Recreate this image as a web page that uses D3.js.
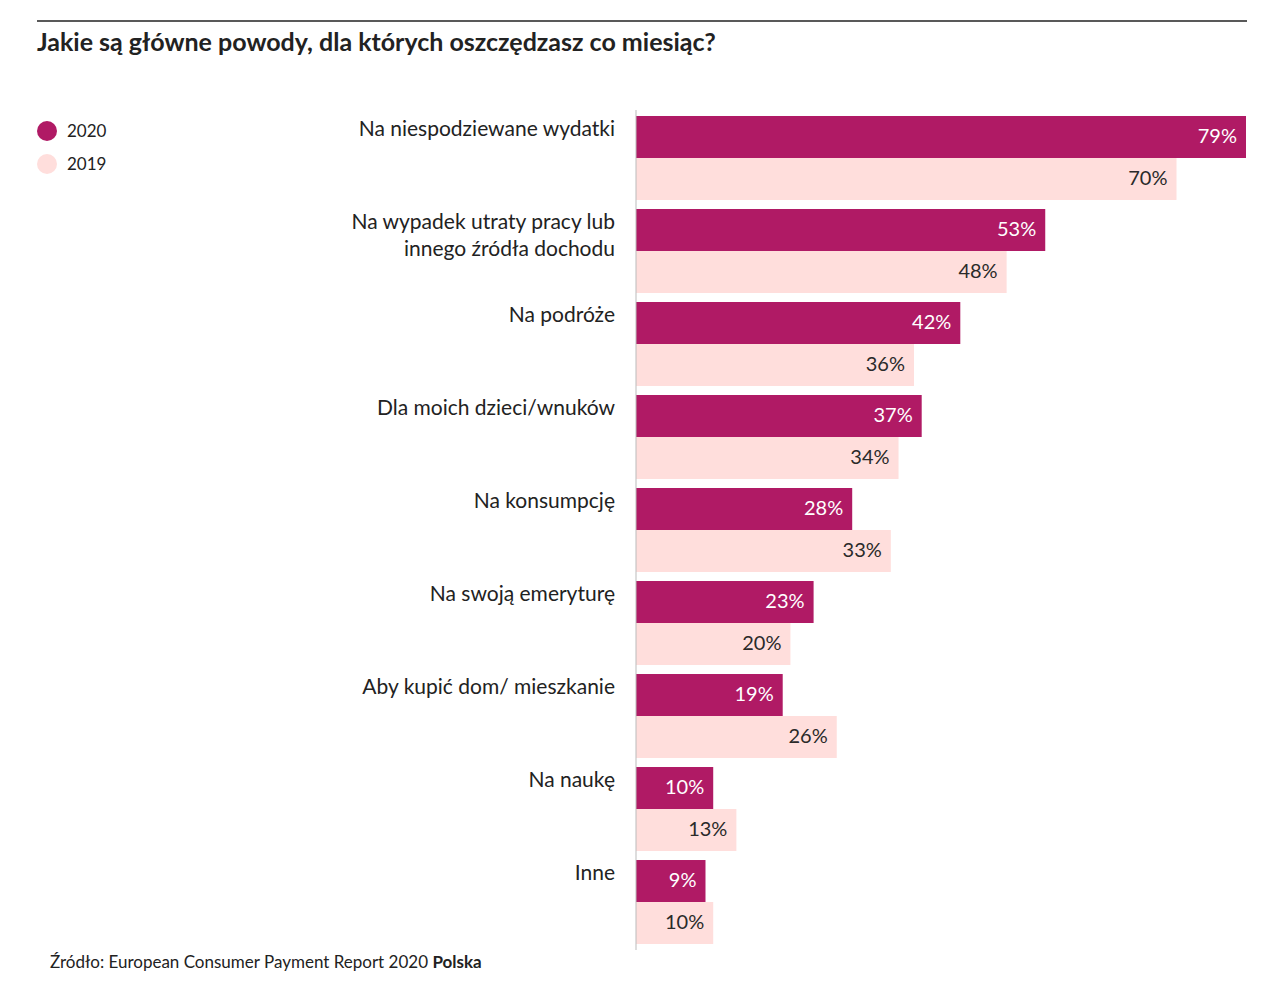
<!DOCTYPE html>
<html>
<head>
<meta charset="utf-8">
<script src="https://cdn.jsdelivr.net/npm/d3@7"></script>
<style>
  body { margin: 0; background: #fff; }
  #graph { width: 1266px; height: 984px; }
  text { font-family: Lato, "Open Sans", sans-serif; }
</style>
</head>
<body>
<div id="graph"></div>
<script>
// Data ////////////////////////////////////////////////////////////////////////
const categories = [
  ["Na niespodziewane wydatki"],
  ["Na wypadek utraty pracy lub", "innego źródła dochodu"],
  ["Na podróże"],
  ["Dla moich dzieci/wnuków"],
  ["Na konsumpcję"],
  ["Na swoją emeryturę"],
  ["Aby kupić dom/ mieszkanie"],
  ["Na naukę"],
  ["Inne"]
];
const series = ["2020", "2019"];
const values2020 = [79, 53, 42, 37, 28, 23, 19, 10, 9];
const values2019 = [70, 48, 36, 34, 33, 20, 26, 13, 10];

const title = "Jakie są główne powody, dla których oszczędzasz co miesiąc?";
const source = "Źródło: European Consumer Payment Report 2020 ";
const sourceBold = "Polska";

// Constants ///////////////////////////////////////////////////////////////////
const svgWidth = 1266;
const svgHeight = 984;
const colors = { "2020": "#b01a65", "2019": "#ffdedc" };
const labelColors = { "2020": "#ffffff", "2019": "#2a2a2a" };
const dark = "#222222";

const svg = d3
  .select("#graph")
  .append("svg")
  .attr("width", svgWidth)
  .attr("height", svgHeight);

// Header //////////////////////////////////////////////////////////////////////
svg.append("line")
  .attr("x1", 37).attr("x2", 1247)
  .attr("y1", 21).attr("y2", 21)
  .style("stroke", dark)
  .style("stroke-width", 1.5);

svg.append("text")
  .attr("x", 37)
  .attr("y", 51)
  .style("font-size", "25px")
  .style("font-weight", 700)
  .style("fill", dark)
  .text(title);

// Scales //////////////////////////////////////////////////////////////////////
const keys = categories.map(d => d.join(" "));
const rows = keys.map((k, i) => ({
  key: k,
  lines: categories[i],
  values: [
    { s: "2020", v: values2020[i] },
    { s: "2019", v: values2019[i] }
  ]
}));

const y = d3.scaleBand()
  .domain(keys)
  .range([116, 944])
  .paddingInner(0.097)
  .paddingOuter(0);

const ySeries = d3.scaleBand()
  .domain(series)
  .range([0, y.bandwidth()]);

const x = d3.scaleLinear()
  .domain([0, d3.max(values2020.concat(values2019))])
  .range([636, 1246]);

// Bars ////////////////////////////////////////////////////////////////////////
const group = svg.selectAll(".row")
  .data(rows)
  .join("g")
  .attr("class", "row")
  .attr("transform", d => `translate(0, ${y(d.key)})`);

group.selectAll("rect")
  .data(d => d.values)
  .join("rect")
  .attr("x", x(0))
  .attr("y", d => ySeries(d.s))
  .attr("width", d => x(d.v) - x(0))
  .attr("height", ySeries.bandwidth())
  .style("fill", d => colors[d.s]);

group.selectAll(".value")
  .data(d => d.values)
  .join("text")
  .attr("class", "value")
  .attr("x", d => x(d.v) - 9)
  .attr("y", d => ySeries(d.s) + ySeries.bandwidth() / 2)
  .attr("dy", "0.3em")
  .attr("text-anchor", "end")
  .style("font-size", "20px")
  .style("fill", d => labelColors[d.s])
  .text(d => d.v + "%");

// Category labels
group.append("text")
  .attr("class", "label")
  .attr("text-anchor", "end")
  .style("font-size", "21px")
  .style("fill", dark)
  .selectAll("tspan")
  .data(d => d.lines)
  .join("tspan")
  .attr("x", 615)
  .attr("y", (d, i) => 20 + i * 27)
  .text(d => d);

// Axis line
svg.append("line")
  .attr("x1", x(0)).attr("x2", x(0))
  .attr("y1", 110).attr("y2", 950)
  .style("stroke", "#bbbbbb")
  .style("stroke-width", 1);

// Legend //////////////////////////////////////////////////////////////////////
const legend = svg.selectAll(".legend")
  .data(series)
  .join("g")
  .attr("class", "legend")
  .attr("transform", (d, i) => `translate(47, ${131 + i * 33})`);

legend.append("circle")
  .attr("r", 10)
  .style("fill", d => colors[d]);

legend.append("text")
  .attr("x", 20)
  .attr("dy", "0.35em")
  .style("font-size", "17px")
  .style("fill", dark)
  .text(d => d);

// Footer //////////////////////////////////////////////////////////////////////
const footer = svg.append("text")
  .attr("x", 50)
  .attr("y", 968)
  .style("font-size", "17px")
  .style("fill", dark);

footer.append("tspan").text(source);
footer.append("tspan").style("font-weight", 700).text(sourceBold);
</script>
</body>
</html>
